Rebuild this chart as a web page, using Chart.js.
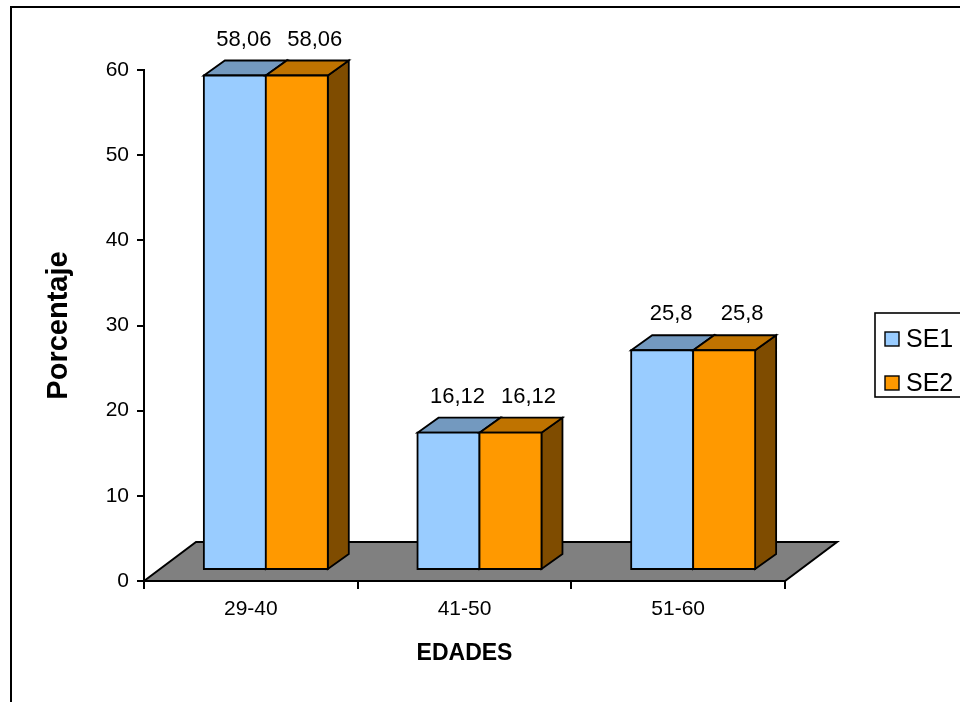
<!DOCTYPE html>
<html>
<head>
<meta charset="utf-8">
<title>Porcentaje por edades</title>
<script src="https://cdn.jsdelivr.net/npm/chart.js@4.4.1/dist/chart.umd.min.js"></script>
<style>
  html, body { margin: 0; padding: 0; background: #ffffff; }
  #c { display: block; }
</style>
</head>
<body>
<canvas id="c" width="960" height="702"></canvas>
<script>
// Age groups and the two series
const categories = ['29-40', '41-50', '51-60'];
const seriesNames = ['SE1', 'SE2'];
const se1Values = [58.06, 16.12, 25.8];
const se2Values = [58.06, 16.12, 25.8];
const yTicks = [0, 10, 20, 30, 40, 50, 60];

// Face colours for each series: front, top, right side
const FRONT = ['#99CCFF', '#FF9900'];
const TOP = ['#7399BF', '#BF7300'];
const SIDE = ['#4C6680', '#7F4C00'];

// Oblique projection offsets (pixels)
const SHIFT = { x: 15, y: -11 };   // bars sit a little behind the front edge of the floor
const DEPTH = { x: 21, y: -15 };   // bar depth
const FLOOR = { x: 52, y: -39 };   // floor depth
const LABEL_NUDGE = [9, 18];       // horizontal offset of value labels per series

const FONT = "'Liberation Sans', Arial, Helvetica, sans-serif";

function poly(ctx, pts, fill) {
  ctx.beginPath();
  ctx.moveTo(pts[0][0], pts[0][1]);
  for (let k = 1; k < pts.length; k++) ctx.lineTo(pts[k][0], pts[k][1]);
  ctx.closePath();
  ctx.fillStyle = fill;
  ctx.fill();
  ctx.stroke();
}

const fmt = v => String(v).replace('.', ',');

const bars3d = {
  id: 'bars3d',
  beforeDatasetsDraw(chart) {
    // grey floor under the bars
    const { ctx, chartArea: a, scales: { y } } = chart;
    const y0 = y.getPixelForValue(0);
    ctx.save();
    ctx.lineWidth = 2;
    ctx.strokeStyle = '#000';
    ctx.lineJoin = 'miter';
    poly(ctx, [[a.left, y0], [a.left + FLOOR.x, y0 + FLOOR.y],
               [a.right + FLOOR.x, y0 + FLOOR.y], [a.right, y0]], '#808080');
    ctx.restore();
  },
  beforeDatasetDraw() {
    // the boxes are drawn below, series by series, in back-to-front order
    return false;
  },
  afterDatasetsDraw(chart) {
    const ctx = chart.ctx;
    ctx.save();
    ctx.translate(SHIFT.x, SHIFT.y);
    ctx.lineWidth = 1.8;
    ctx.strokeStyle = '#000';
    ctx.lineJoin = 'miter';
    chart.data.datasets.forEach((ds, i) => {
      chart.getDatasetMeta(i).data.forEach(bar => {
        const { x, y, base, width } = bar.getProps(['x', 'y', 'base', 'width'], true);
        const l = x - width / 2, r = x + width / 2;
        poly(ctx, [[r, y], [r + DEPTH.x, y + DEPTH.y], [r + DEPTH.x, base + DEPTH.y], [r, base]], SIDE[i]);
        poly(ctx, [[l, y], [l + DEPTH.x, y + DEPTH.y], [r + DEPTH.x, y + DEPTH.y], [r, y]], TOP[i]);
        poly(ctx, [[l, y], [r, y], [r, base], [l, base]], FRONT[i]);
      });
    });
    // value labels
    ctx.fillStyle = '#000';
    ctx.font = '22px ' + FONT;
    ctx.textAlign = 'center';
    ctx.textBaseline = 'alphabetic';
    chart.data.datasets.forEach((ds, i) => {
      chart.getDatasetMeta(i).data.forEach((bar, j) => {
        const { x, y } = bar.getProps(['x', 'y'], true);
        ctx.fillText(fmt(ds.data[j]), x + LABEL_NUDGE[i], y - 30);
      });
    });
    ctx.restore();
  },
  afterDraw(chart) {
    const ctx = chart.ctx;
    ctx.save();
    // legend
    ctx.lineWidth = 1.6;
    ctx.strokeStyle = '#000';
    ctx.strokeRect(875, 313, 130, 84);
    ctx.font = '25px ' + FONT;
    ctx.textBaseline = 'middle';
    ctx.textAlign = 'left';
    chart.data.datasets.forEach((ds, i) => {
      const cy = 339 + i * 44;
      ctx.fillStyle = FRONT[i];
      ctx.fillRect(885, cy - 7, 14, 14);
      ctx.lineWidth = 1.4;
      ctx.strokeRect(885, cy - 7, 14, 14);
      ctx.fillStyle = '#000';
      ctx.fillText(ds.label, 906, cy + 1);
    });
    // chart frame
    ctx.lineWidth = 2;
    ctx.strokeRect(11, 7, 990, 740);
    ctx.restore();
  }
};

new Chart(document.getElementById('c'), {
  type: 'bar',
  data: {
    labels: categories,
    datasets: [
      { label: seriesNames[0], data: se1Values, backgroundColor: FRONT[0] },
      { label: seriesNames[1], data: se2Values, backgroundColor: FRONT[1] }
    ]
  },
  options: {
    responsive: false,
    animation: false,
    devicePixelRatio: 1,
    layout: { padding: { left: 0, top: 70, right: 175, bottom: 0 } },
    datasets: { bar: { categoryPercentage: 0.58, barPercentage: 1 } },
    plugins: { legend: { display: false }, tooltip: { enabled: false } },
    scales: {
      x: {
        grid: { display: true, drawOnChartArea: false, drawTicks: true, tickLength: 8, color: '#000', lineWidth: 2 },
        border: { display: true, color: '#000', width: 2 },
        ticks: { color: '#000', font: { family: FONT, size: 21 }, padding: 8 },
        title: { display: true, text: 'EDADES', color: '#000', font: { family: FONT, size: 23, weight: 'bold' }, padding: { top: 0, bottom: 35 } },
        afterFit(scale) { scale.height = 121; }
      },
      y: {
        min: yTicks[0],
        max: yTicks[yTicks.length - 1],
        ticks: { stepSize: yTicks[1] - yTicks[0], color: '#000', font: { family: FONT, size: 21 }, padding: 8 },
        grid: { display: true, drawOnChartArea: false, drawTicks: true, tickLength: 7, color: '#000', lineWidth: 2 },
        border: { display: true, color: '#000', width: 2 },
        title: { display: true, text: 'Porcentaje', color: '#000', font: { family: FONT, size: 29, weight: 'bold' }, padding: { top: 42, bottom: 0 } },
        afterFit(scale) { scale.width = 144; }
      }
    }
  },
  plugins: [bars3d]
});
</script>
</body>
</html>
